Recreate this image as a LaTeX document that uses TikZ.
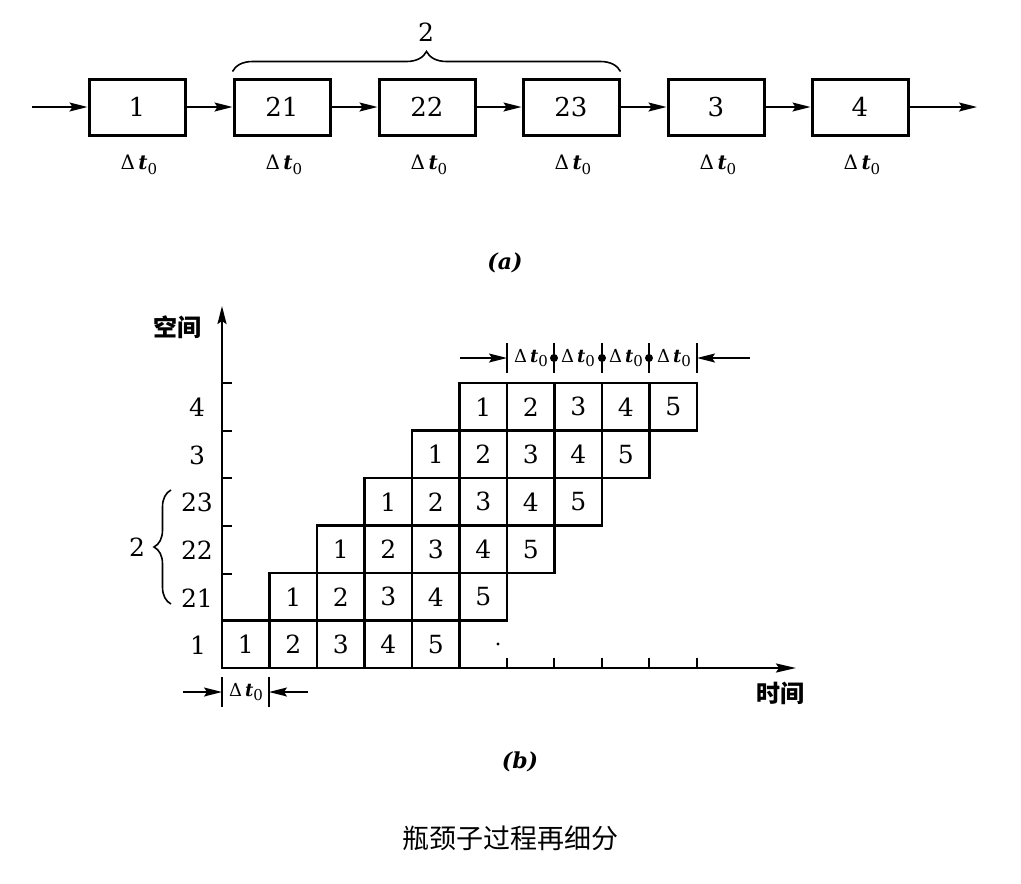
\documentclass[tikz,border=0pt]{standalone}
\usepackage{fontspec}
\setmainfont{DejaVu Serif}
\newfontfamily\cjk{Noto Sans CJK SC}
\usetikzlibrary{arrows.meta,decorations.pathreplacing,calc}
\newcommand{\dtz}{Δ\,\textbf{\textit{t}}\raisebox{-0.45ex}{\fontsize{15}{15}\selectfont 0}}
\begin{document}
\begin{tikzpicture}[x=1pt,y=-1pt,
  proc/.style={draw,line width=3pt,minimum width=96pt,minimum height=56pt,inner sep=0pt,font=\fontsize{26}{26}\selectfont},
  cell/.style={draw,line width=2.5pt,minimum size=47.5pt,inner sep=0pt,font=\fontsize{25}{25}\selectfont},
  arr/.style={line width=1.6pt,-{Stealth[length=18pt,width=9pt,inset=3pt]}},
  dt/.style={font=\fontsize{20}{20}\selectfont,inner sep=0pt},
  dts/.style={font=\fontsize{18}{18}\selectfont,inner sep=0pt},
  num/.style={font=\fontsize{25}{25}\selectfont,inner sep=0pt},
  axis/.style={line width=2.2pt},
  tickmark/.style={line width=1.6pt},
  bar/.style={line width=1.4pt},
  brc/.style={line width=1.6pt,decorate},
  sublabel/.style={font=\fontsize{22}{22}\selectfont\bfseries\itshape,inner sep=0pt},
  cjklab/.style={font=\cjk\fontsize{24}{24}\selectfont\bfseries,inner sep=0pt}]
\fill[white] (0,0) rectangle (1021,884);
\useasboundingbox (0,0) rectangle (1021,884);

% ---------- (a) ----------
\coordinate (ain) at (32,107);
\coordinate (aout) at (977,107);
\node[proc] (b1)  at (137,107) {1};
\node[proc] (b21) at (282,107) {21};
\node[proc] (b22) at (427,107) {22};
\node[proc] (b23) at (571,107) {23};
\node[proc] (b3)  at (716,107) {3};
\node[proc] (b4)  at (860,107) {4};
\draw[arr] (ain) -- (b1.west);
\draw[arr] (b1) -- (b21);
\draw[arr] (b21) -- (b22);
\draw[arr] (b22) -- (b23);
\draw[arr] (b23) -- (b3);
\draw[arr] (b3) -- (b4);
\draw[arr] (b4.east) -- (aout);
\foreach \b in {b1,b21,b22,b23,b3,b4}{
  \node[dt] (d\b) at ($(\b.south)+(2,28)$) {\dtz};
}
\draw[brc,decoration={brace,amplitude=20pt}] ($(b21.north west)+(0,-6)$) -- ($(b23.north east)+(0,-6)$);
\node[num] (atwo) at (426,32) {2};
\node[sublabel] (capa) at (505,263) {(a)};

% ---------- (b) ----------
\coordinate (O) at (222,668);
\coordinate (ytop) at (222,306);
\coordinate (xend) at (796,668);
\foreach \r in {0,...,5}{
  \foreach \k in {0,...,4}{
    \pgfmathtruncatemacro\lab{\k+1}
    \node[cell] (c\r\k) at ({222+(\r+\k+0.5)*47.5},{668-(\r+0.5)*47.5}) {\lab};
  }
}
\draw[axis,-{Stealth[length=18pt,width=9pt,inset=3pt]}] (O) -- (ytop);
\draw[axis,-{Stealth[length=20pt,width=9pt,inset=3pt]}] (O) -- (xend);
\foreach \y in {383,431,478,526,574}{
  \draw[tickmark] (222,\y) -- (232,\y);
}
\foreach \x in {507,554,602,649,697}{
  \draw[tickmark] (\x,668) -- (\x,658);
}
\fill (498,644) circle (1.6pt);

\node[num] (y1)  at (198,645) {1};
\node[num] (y21) at (197,598) {21};
\node[num] (y22) at (197,550) {22};
\node[num] (y23) at (197,502) {23};
\node[num] (y3)  at (197,455) {3};
\node[num] (y4)  at (197,407) {4};
\draw[brc,decoration={brace,amplitude=17pt}] (171,604) -- (171,490);
\node[num] (btwo) at (137,547) {2};

\node[cjklab] (kj) at (177,327) {空间};
\node[cjklab] (sj) at (780,693) {时间};

% top dimension
\foreach \x [count=\i] in {507,554,602,649,697}{
  \coordinate (t\i) at (\x,358);
  \draw[bar] (\x,343) -- (\x,373);
}
\coordinate (tl) at (460,358);
\coordinate (tr) at (750,358);
\draw[arr] (tl) -- (t1);
\draw[arr] (tr) -- (t5);
\foreach \i in {2,3,4}{ \fill (t\i) circle (4pt); }
\foreach \x in {531,578,626,674}{
  \node[dts] at (\x,358) {\dtz};
}

% bottom dimension
\coordinate (bl0) at (222,692);
\coordinate (bl1) at (269,692);
\draw[bar] (222,677) -- (222,707);
\draw[bar] (269,677) -- (269,707);
\draw[arr] (183,692) -- (bl0);
\draw[arr] (308,692) -- (bl1);
\node[dts] (bdt) at (246,692) {\dtz};

\node[sublabel] (capb) at (520,762) {(b)};
\node[font=\cjk\fontsize{27}{27}\selectfont,inner sep=0pt] (captxt) at (510,838) {瓶颈子过程再细分};
\end{tikzpicture}
\end{document}
